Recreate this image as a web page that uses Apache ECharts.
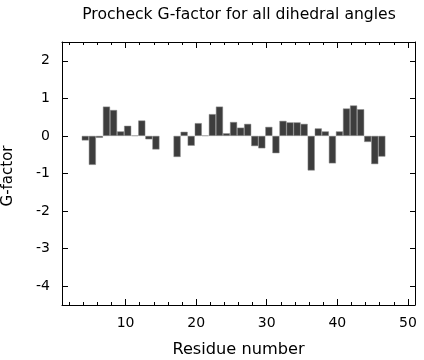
<!DOCTYPE html>
<html><head><meta charset="utf-8">
<script src="https://cdn.jsdelivr.net/npm/echarts@6/dist/echarts.min.js"></script>
<style>html,body{margin:0;padding:0;background:#fff}#c{width:424px;height:360px}</style>
</head><body><div id="c"></div>
<script>
// Data
const residues = [4,5,6,7,8,9,10,11,12,13,14,15,16,17,18,19,20,21,22,23,24,25,26,27,28,29,30,31,32,33,34,35,36,37,38,39,40,41,42,43,44,45,46];
const gFactor  = [-0.12,-0.77,-0.05,0.78,0.69,0.12,0.27,0.01,0.41,-0.09,-0.36,null,null,-0.56,0.11,-0.26,0.34,0.01,0.58,0.78,0.07,0.37,0.22,0.32,-0.27,-0.33,0.24,-0.46,0.40,0.36,0.36,0.32,-0.92,0.20,0.12,-0.73,0.12,0.73,0.81,0.71,-0.16,-0.75,-0.55];
const xMajorTicks = [10,20,30,40,50];
const xMinorTicks = [2,4,6,8,12,14,16,18,22,24,26,28,32,34,36,38,42,44,46,48];
const yTicks = [-4,-3,-2,-1,0,1,2];

const FONT = 'DejaVu Sans';
const barData = [];
residues.forEach((r, i) => { if (gFactor[i] !== null) barData.push([r, gFactor[i]]); });

const baseX = {
  type: 'value', min: 1, max: 51, splitLine: {show: false},
  axisLine: {show: false, onZero: false}, axisLabel: {show: false}, axisTick: {show: false}
};
function xAx(extra) { return Object.assign({}, baseX, extra); }

const chart = echarts.init(document.getElementById('c'), null, {renderer: 'canvas'});
chart.setOption({
  animation: false,
  backgroundColor: '#fff',
  title: {
    text: 'Procheck G-factor for all dihedral angles',
    left: 239, top: 7, padding: 0, textAlign: 'center',
    textStyle: {fontFamily: FONT, fontSize: 15.6, fontWeight: 'normal', color: '#000'}
  },
  grid: {left: 62, right: 9, top: 42, bottom: 55, containLabel: false, outerBoundsMode: 'none'},
  xAxis: [
    xAx({position: 'bottom', name: 'Residue number', nameLocation: 'middle', nameGap: 37,
      nameTextStyle: {fontFamily: FONT, fontSize: 16.2, color: '#000'},
      axisLine: {show: true, onZero: false, lineStyle: {color: '#000', width: 1}},
      axisTick: {show: true, inside: true, length: 6, customValues: xMajorTicks, lineStyle: {color: '#000'}},
      axisLabel: {show: true, customValues: xMajorTicks, margin: 11, fontFamily: FONT, fontSize: 14, color: '#000'}}),
    xAx({position: 'bottom',
      axisTick: {show: true, inside: true, length: 3, customValues: xMinorTicks, lineStyle: {color: '#000'}}}),
    xAx({position: 'top',
      axisLine: {show: true, onZero: false, lineStyle: {color: '#000', width: 1}},
      axisTick: {show: true, inside: true, length: 6, customValues: xMajorTicks, lineStyle: {color: '#000'}}}),
    xAx({position: 'top',
      axisTick: {show: true, inside: true, length: 3, customValues: xMinorTicks, lineStyle: {color: '#000'}}}),
    {type: 'value', min: 0.7, max: 50.7, show: false}
  ],
  yAxis: [
    {type: 'value', position: 'left', min: -4.5, max: 2.5, splitLine: {show: false},
      name: 'G-factor', nameLocation: 'middle', nameGap: 46,
      nameTextStyle: {fontFamily: FONT, fontSize: 15, color: '#000', padding: [0, 5, 0, 0]},
      axisLine: {show: true, onZero: false, lineStyle: {color: '#000', width: 1}},
      axisTick: {show: true, inside: true, length: 6, customValues: yTicks, lineStyle: {color: '#000'}},
      axisLabel: {show: true, customValues: yTicks, margin: 12, fontFamily: FONT, fontSize: 14, color: '#000'}},
    {type: 'value', position: 'right', min: -4.5, max: 2.5, splitLine: {show: false},
      axisLine: {show: true, onZero: false, lineStyle: {color: '#000', width: 1}},
      axisTick: {show: true, inside: true, length: 5, customValues: yTicks, lineStyle: {color: '#000'}},
      axisLabel: {show: false}}
  ],
  series: [{
    type: 'bar', xAxisIndex: 4, yAxisIndex: 0, data: barData, barWidth: '100%',
    itemStyle: {color: '#3d3d3d', borderColor: '#8a8a8a', borderWidth: 0.5}
  }]
});
</script>
</body></html>
